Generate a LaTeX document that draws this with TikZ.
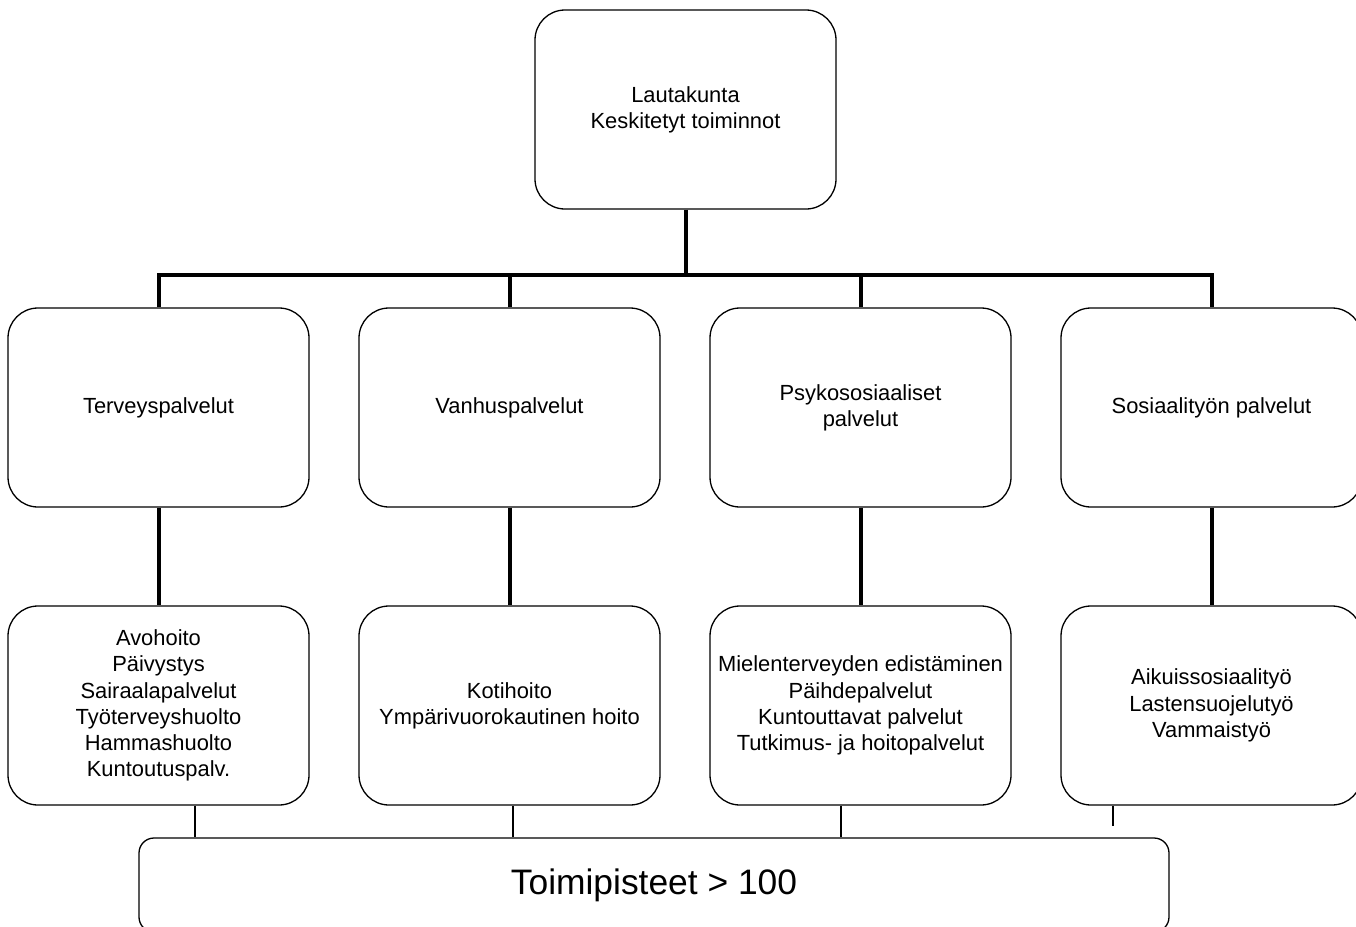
\documentclass[tikz,border=0pt]{standalone}
\usepackage{fontspec}
\setmainfont{Liberation Sans}
\begin{document}
\begin{tikzpicture}[x=1pt,y=-1pt,
  orgbox/.style={draw, line width=1.3pt, rounded corners=30pt, minimum width=301pt,
    minimum height=199pt, align=center, inner sep=0pt,
    font=\fontsize{21.9}{26.3}\selectfont},
  trunk/.style={line width=4pt},
  twig/.style={line width=1.3pt}]
\clip (0,0) rectangle (1356,926);
\useasboundingbox (0,0) rectangle (1356,926);

% board
\node[orgbox] (top) at (685.5,109.5) {Lautakunta\\Keskitetyt toiminnot};

% service areas
\node[orgbox] (b1) at (158.5,407.5) {Terveyspalvelut};
\node[orgbox] (b2) at (509.5,407.5) {Vanhuspalvelut};
\node[orgbox] (b3) at (860.5,407.5) {Psykososiaaliset\\palvelut};
\node[orgbox] (b4) at (1211.5,407.5) {Sosiaalityön palvelut};

% service units
\node[orgbox] (c1) at (158.5,705.5) {Avohoito\\Päivystys\\Sairaalapalvelut\\Työterveyshuolto\\Hammashuolto\\Kuntoutuspalv.};
\node[orgbox] (c2) at (509.5,705.5) {Kotihoito\\Ympärivuorokautinen hoito};
\node[orgbox] (c3) at (860.5,705.5) {Mielenterveyden edistäminen\\Päihdepalvelut\\Kuntouttavat palvelut\\Tutkimus- ja hoitopalvelut};
\node[orgbox] (c4) at (1211.5,705.5) {Aikuissosiaalityö\\Lastensuojelutyö\\Vammaistyö};

% sites
\node[draw, line width=1.3pt, rounded corners=15pt, minimum width=1030pt, minimum height=94pt,
  font=\fontsize{35.4}{42}\selectfont] (bot) at (654,885) {Toimipisteet > 100};

% main tree
\coordinate (bar) at (0,275);
\draw[trunk] (top.south) -- (top.south |- bar);
\draw[trunk] (b1.north) -- (b1.north |- bar) -- (b4.north |- bar) -- (b4.north);
\draw[trunk] (b2.north) -- (b2.north |- bar);
\draw[trunk] (b3.north) -- (b3.north |- bar);
\foreach \i in {1,2,3,4} \draw[trunk] (b\i.south) -- (c\i.north);

% links to sites
\draw[twig] ([xshift=36.5pt]c1.south) -- ([xshift=36.5pt]c1.south |- bot.north);
\draw[twig] ([xshift=3.5pt]c2.south) -- ([xshift=3.5pt]c2.south |- bot.north);
\draw[twig] ([xshift=-19.5pt]c3.south) -- ([xshift=-19.5pt]c3.south |- bot.north);
\coordinate (c4end) at (1113,826);
\draw[twig] (c4.south -| c4end) -- (c4end);
\end{tikzpicture}
\end{document}
